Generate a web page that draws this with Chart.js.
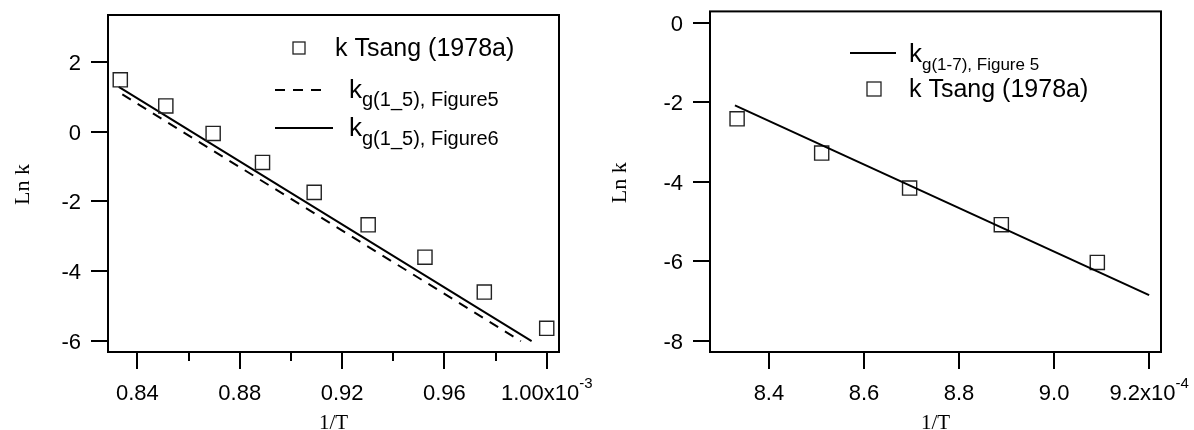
<!DOCTYPE html>
<html>
<head>
<meta charset="utf-8">
<script src="https://cdn.jsdelivr.net/npm/chart.js@4/dist/chart.umd.min.js"></script>
<style>
html, body { margin: 0; padding: 0; background: #fff; }
#wrap { position: relative; width: 1194px; height: 430px; }
.box { position: absolute; top: 0; width: 597px; height: 430px; }
</style>
</head>
<body>
<div id="wrap">
  <div class="box" style="left:0"><canvas id="left" width="597" height="430"></canvas></div>
  <div class="box" style="left:597px"><canvas id="right" width="597" height="430"></canvas></div>
</div>
<script>
// left panel, 1/T in units of 1e-3
var tsangX1 = [0.8333, 0.8511, 0.8696, 0.8889, 0.9091, 0.9302, 0.9524, 0.9756, 1.0000];
var tsangY1 = [1.49, 0.74, -0.05, -0.88, -1.74, -2.67, -3.60, -4.60, -5.64];
var fig5X = [0.8341, 0.9899];
var fig5Y = [1.07, -6.01];
var fig6X = [0.8327, 0.9941];
var fig6Y = [1.29, -6.01];
var xTicks1 = [0.84, 0.88, 0.92, 0.96, 1.00];
var xMinor1 = [0.86, 0.90, 0.94, 0.98];
var xLabels1 = ["0.84", "0.88", "0.92", "0.96", "1.00x10"];
var yTicks1 = [2, 0, -2, -4, -6];

// right panel, 1/T in units of 1e-4
var tsangX2 = [8.333, 8.511, 8.696, 8.889, 9.091];
var tsangY2 = [-2.42, -3.28, -4.16, -5.08, -6.03];
var fig7X = [8.3285, 9.2];
var fig7Y = [-2.08, -6.85];
var xTicks2 = [8.4, 8.6, 8.8, 9.0, 9.2];
var xLabels2 = ["8.4", "8.6", "8.8", "9.0", "9.2x10"];
var yTicks2 = [0, -2, -4, -6, -8];

var SANS = '"Liberation Sans", Arial, Helvetica, sans-serif';
var SERIF = '"Liberation Serif", "Times New Roman", serif';

function pts(xs, ys) {
  return xs.map(function(x, i) { return { x: x, y: ys[i] }; });
}

// frame, tick marks, tick labels, axis titles and the legend
var axisDeco = {
  id: 'axisDeco',
  afterDraw: function(chart, args, o) {
    var ctx = chart.ctx, a = chart.chartArea;
    var xs = chart.scales.x, ys = chart.scales.y;
    ctx.save();
    ctx.strokeStyle = '#000';
    ctx.fillStyle = '#000';
    ctx.lineWidth = 2;
    ctx.setLineDash([]);
    ctx.strokeRect(a.left, a.top, a.right - a.left, a.bottom - a.top);

    ctx.beginPath();
    o.xTicks.forEach(function(v) {
      var px = Math.round(xs.getPixelForValue(v));
      ctx.moveTo(px, a.bottom); ctx.lineTo(px, a.bottom + 17);
    });
    (o.xMinor || []).forEach(function(v) {
      var px = Math.round(xs.getPixelForValue(v));
      ctx.moveTo(px, a.bottom); ctx.lineTo(px, a.bottom + 9);
    });
    o.yTicks.forEach(function(v) {
      var py = Math.round(ys.getPixelForValue(v));
      ctx.moveTo(a.left, py); ctx.lineTo(a.left - 17, py);
    });
    ctx.stroke();

    // x tick labels, last one gets the exponent
    var big = '22px ' + SANS, small = '15px ' + SANS;
    ctx.textBaseline = 'alphabetic';
    ctx.textAlign = 'left';
    o.xTicks.forEach(function(v, i) {
      var px = xs.getPixelForValue(v), txt = o.xLabels[i];
      ctx.font = big;
      var w = ctx.measureText(txt).width, sw = 0;
      var last = i === o.xTicks.length - 1;
      if (last) { ctx.font = small; sw = ctx.measureText(o.exponent).width; ctx.font = big; }
      var x0 = px - (w + sw) / 2;
      ctx.fillText(txt, x0, 400);
      if (last) { ctx.font = small; ctx.fillText(o.exponent, x0 + w, 388); }
    });

    // y tick labels
    ctx.font = big;
    ctx.textAlign = 'right';
    o.yTicks.forEach(function(v) {
      var py = ys.getPixelForValue(v);
      ctx.fillText(String(v), a.left - 27, py + 8);
    });

    // axis titles
    ctx.textAlign = 'center';
    ctx.font = '21px ' + SERIF;
    ctx.fillText('1/T', (a.left + a.right) / 2, 429);
    ctx.save();
    ctx.font = '22px ' + SERIF;
    ctx.translate(23, (a.top + a.bottom) / 2 + 1);
    ctx.rotate(-Math.PI / 2);
    ctx.textBaseline = 'middle';
    ctx.fillText('Ln k', 0, 0);
    ctx.restore();

    // legend
    ctx.textAlign = 'left';
    ctx.textBaseline = 'alphabetic';
    o.legend.forEach(function(it) {
      if (it.kind === 'square') {
        ctx.lineWidth = 1.3;
        ctx.strokeStyle = '#222';
        ctx.strokeRect(it.cx - it.size / 2, it.cy - it.size / 2, it.size, it.size);
        ctx.font = '25px ' + SANS;
        ctx.fillText(it.text, it.tx, it.ty);
      } else {
        ctx.lineWidth = 2;
        ctx.strokeStyle = '#000';
        ctx.setLineDash(it.kind === 'dash' ? [10, 8] : []);
        ctx.beginPath();
        ctx.moveTo(it.x1, it.y); ctx.lineTo(it.x2, it.y);
        ctx.stroke();
        ctx.setLineDash([]);
        ctx.font = '26px ' + SANS;
        ctx.fillText('k', it.tx, it.ty);
        var kw = ctx.measureText('k').width;
        ctx.font = it.subSize + 'px ' + SANS;
        ctx.fillText(it.sub, it.tx + kw, it.sy);
      }
    });
    ctx.restore();
  }
};

function makeChart(id, cfg) {
  return new Chart(document.getElementById(id), {
    type: 'scatter',
    data: { datasets: cfg.datasets },
    options: {
      responsive: false,
      animation: false,
      devicePixelRatio: 1,
      layout: { padding: { left: 0, top: cfg.top, right: cfg.right, bottom: 0 } },
      plugins: {
        legend: { display: false },
        tooltip: { enabled: false },
        axisDeco: cfg.deco
      },
      scales: {
        x: {
          type: 'linear', min: cfg.xMin, max: cfg.xMax,
          grid: { display: false, drawTicks: false }, border: { display: false },
          ticks: { display: false },
          afterFit: function(s) { s.height = cfg.xHeight; }
        },
        y: {
          type: 'linear', min: cfg.yMin, max: cfg.yMax,
          grid: { display: false, drawTicks: false }, border: { display: false },
          ticks: { display: false },
          afterFit: function(s) { s.width = cfg.yWidth; }
        }
      }
    },
    plugins: [axisDeco]
  });
}

var squareStyle = {
  pointStyle: 'rect', pointRadius: 10, pointHoverRadius: 10,
  borderColor: '#222', borderWidth: 1.4, backgroundColor: 'rgba(0,0,0,0)', showLine: false
};
var lineStyle = { showLine: true, pointRadius: 0, borderColor: '#000', borderWidth: 2, fill: false };

makeChart('left', {
  datasets: [
    Object.assign({ label: 'k Tsang (1978a)', data: pts(tsangX1, tsangY1) }, squareStyle),
    Object.assign({ label: 'Figure5', data: pts(fig5X, fig5Y), borderDash: [10, 8] }, lineStyle),
    Object.assign({ label: 'Figure6', data: pts(fig6X, fig6Y) }, lineStyle)
  ],
  xMin: 0.8285, xMax: 1.0048, yMin: -6.32, yMax: 3.35,
  top: 15, right: 38, xHeight: 78, yWidth: 108,
  deco: {
    xTicks: xTicks1, xMinor: xMinor1, xLabels: xLabels1, yTicks: yTicks1, exponent: '-3',
    legend: [
      { kind: 'square', cx: 299, cy: 48, size: 12, text: 'k Tsang (1978a)', tx: 335, ty: 56 },
      { kind: 'dash', x1: 275, x2: 322, y: 90, tx: 349, ty: 98, sub: 'g(1_5), Figure5', subSize: 20, sy: 106 },
      { kind: 'solid', x1: 275, x2: 333, y: 128, tx: 349, ty: 136, sub: 'g(1_5), Figure6', subSize: 20, sy: 145 }
    ]
  }
});

makeChart('right', {
  datasets: [
    Object.assign({ label: 'Figure 5', data: pts(fig7X, fig7Y) }, lineStyle),
    Object.assign({ label: 'k Tsang (1978a)', data: pts(tsangX2, tsangY2) }, squareStyle)
  ],
  xMin: 8.276, xMax: 9.225, yMin: -8.28, yMax: 0.28,
  top: 10, right: 33, xHeight: 78, yWidth: 113,
  deco: {
    xTicks: xTicks2, xLabels: xLabels2, yTicks: yTicks2, exponent: '-4',
    legend: [
      { kind: 'solid', x1: 253, x2: 299, y: 53, tx: 312, ty: 62, sub: 'g(1-7), Figure 5', subSize: 17, sy: 70 },
      { kind: 'square', cx: 277, cy: 89, size: 14, text: 'k Tsang (1978a)', tx: 312, ty: 97 }
    ]
  }
});
</script>
</body>
</html>
